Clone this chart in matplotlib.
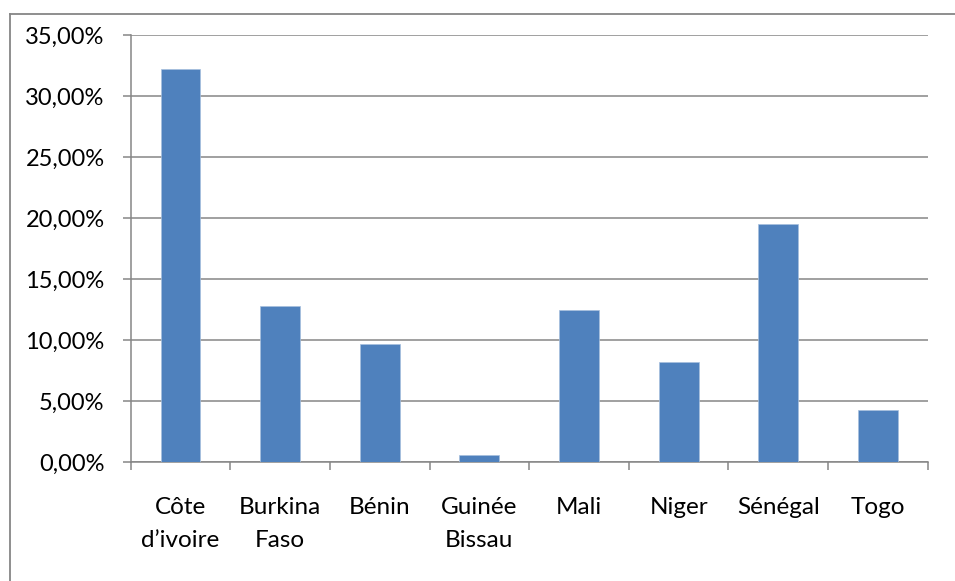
import matplotlib.pyplot as plt
from matplotlib.lines import Line2D
from matplotlib.ticker import FuncFormatter, FixedLocator
import numpy as np

# données
pays = ["Côte\nd’ivoire", "Burkina\nFaso", "Bénin", "Guinée\nBissau",
        "Mali", "Niger", "Sénégal", "Togo"]
parts = [32.2, 12.8, 9.66, 0.57, 12.5, 8.19, 19.52, 4.31]

plt.rcParams['font.family'] = ['Lato', 'DejaVu Sans']
gris = '#868686'

fig = plt.figure(figsize=(9.55, 5.81), dpi=100)
W, H = 955, 581
ax = fig.add_axes([130.7 / W, 1 - 462.3 / H, 797 / W, 427.3 / H])

x = np.arange(len(pays))
ax.bar(x, parts, width=0.4, color='#4F81BD', edgecolor='#A7BFDE', linewidth=0.5, zorder=3)

ax.set_xlim(-0.5, len(pays) - 0.5)
ax.set_ylim(0, 35)
ax.set_yticks(np.arange(0, 36, 5))
ax.yaxis.set_major_formatter(FuncFormatter(lambda v, p: f"{v:.2f}%".replace('.', ',')))
ax.grid(axis='y', color=gris, linewidth=1.1, zorder=0)

ax.set_xticks(x)
ax.set_xticklabels(pays, linespacing=1.7)
ax.xaxis.set_minor_locator(FixedLocator(np.arange(-0.5, len(pays), 1.0)))
ax.tick_params(axis='x', which='major', length=0, pad=25, labelsize=17.5)
ax.tick_params(axis='x', which='minor', length=5.5, width=1.1, color=gris)
ax.tick_params(axis='y', length=5.8, width=1.1, color=gris, pad=13, labelsize=17)

for s in ['top', 'right']:
    ax.spines[s].set_visible(False)
for s in ['left', 'bottom']:
    ax.spines[s].set_color(gris)
    ax.spines[s].set_linewidth(1.1)

# cadre du graphique
fig.add_artist(Line2D([9.5 / W, 1], [1 - 13.5 / H] * 2, color=gris, linewidth=1.3))
fig.add_artist(Line2D([9.5 / W] * 2, [0, 1 - 13.5 / H], color=gris, linewidth=1.3))

fig.savefig("out.png", dpi=100)
